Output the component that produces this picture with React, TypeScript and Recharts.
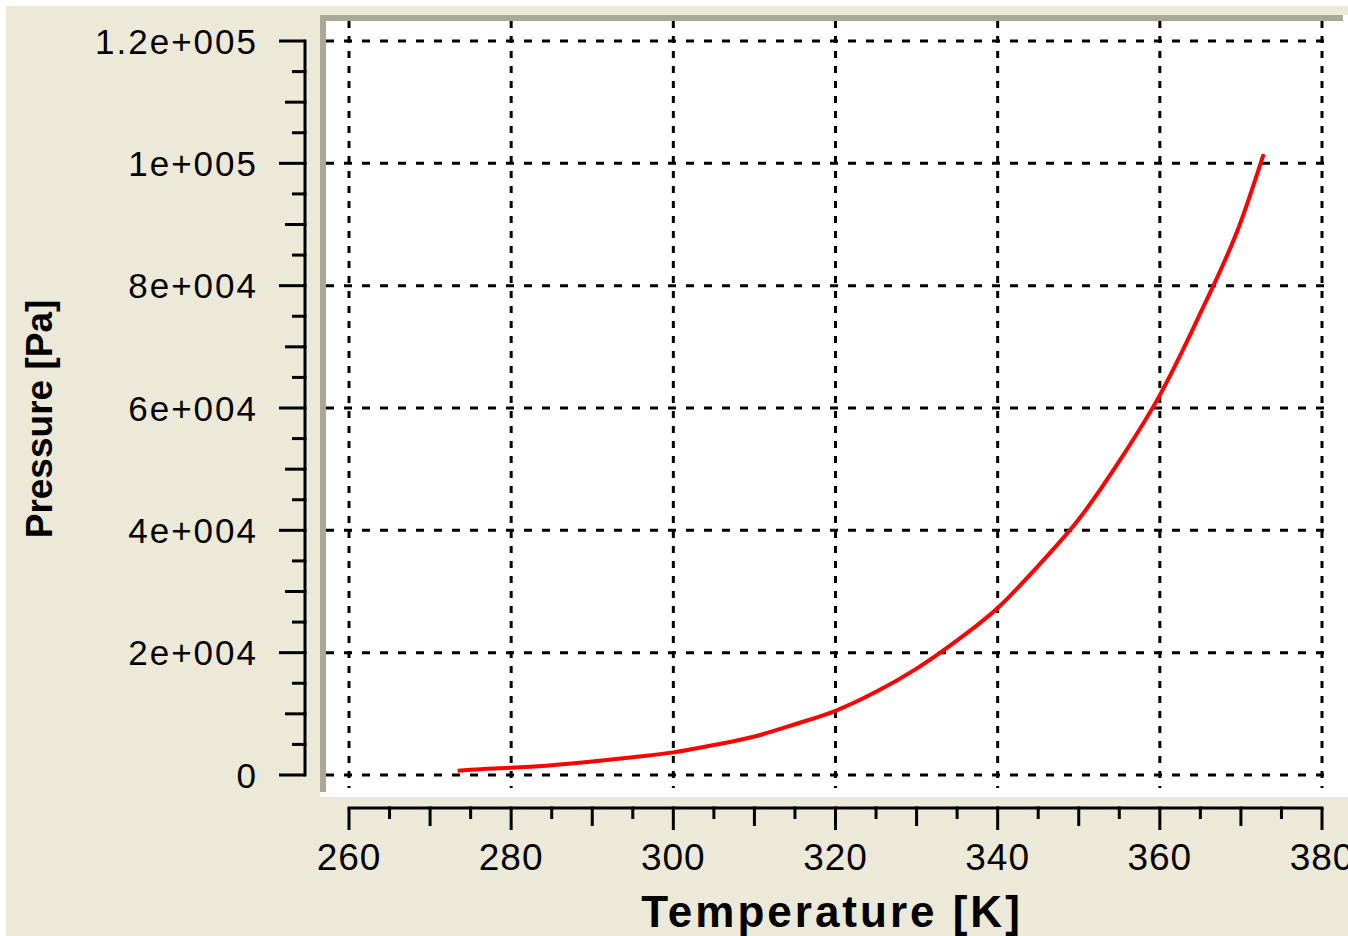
import React from 'react';
import { LineChart, Line, XAxis, YAxis, CartesianGrid } from 'recharts';

// ---- data ----
const temperatureK = [273.4, 275, 280, 285, 290, 295, 300, 305, 310, 315, 320, 325, 330, 335, 340, 345, 350, 355, 360, 365, 370, 372.8];
const pressurePa = [700, 850, 1200, 1600, 2200, 2900, 3700, 4900, 6300, 8300, 10500, 13600, 17400, 22000, 27300, 34200, 41800, 51300, 62100, 75500, 90500, 101500];

const xMajorTicks = [260, 280, 300, 320, 340, 360, 380];
const xTickLabels = ['260', '280', '300', '320', '340', '360', '380'];
const xAllTicks = [260, 265, 270, 275, 280, 285, 290, 295, 300, 305, 310, 315, 320, 325, 330, 335, 340, 345, 350, 355, 360, 365, 370, 375, 380];

const yMajorTicks = [0, 20000, 40000, 60000, 80000, 100000, 120000];
const yTickLabels = ['0', '2e+004', '4e+004', '6e+004', '8e+004', '1e+005', '1.2e+005'];
const yAllTicks = [0, 5000, 10000, 15000, 20000, 25000, 30000, 35000, 40000, 45000, 50000, 55000, 60000, 65000, 70000, 75000, 80000, 85000, 90000, 95000, 100000, 105000, 110000, 115000, 120000];

const xTitle = 'Temperature [K]';
const yTitle = 'Pressure [Pa]';

const data = temperatureK.map((t, i) => ({ t, p: pressurePa[i] }));

const FONT = '"Liberation Sans", Arial, sans-serif';
const BEIGE = '#ECE9D8';
const GREY = '#ACA899';

const xCoords: number[] = [];
const yCoords: number[] = [];

const XTick = (props: any) => {
  const { x, y, payload, index } = props;
  const v = payload.value;
  const ay = y + 20;
  xCoords[index] = x;
  const mi = xMajorTicks.indexOf(v);
  const len = mi >= 0 ? 22 : v % 10 === 0 ? 18 : 11;
  return (
    <g>
      {index > 0 && (
        <line x1={xCoords[index - 1]} x2={x} y1={ay} y2={ay} stroke="#000" strokeWidth={3} strokeLinecap="square" />
      )}
      <line x1={x} x2={x} y1={ay} y2={ay + len} stroke="#000" strokeWidth={3} />
      {mi >= 0 && (
        <text x={x} y={ay + 62} textAnchor="middle" fontFamily={FONT} fontSize={37} fill="#000" letterSpacing={1}>
          {xTickLabels[mi]}
        </text>
      )}
    </g>
  );
};

const YTick = (props: any) => {
  const { x, y, payload, index } = props;
  const v = payload.value;
  const ax = x - 21;
  yCoords[index] = y;
  const mi = yMajorTicks.indexOf(v);
  const len = mi >= 0 ? 26 : v % 10000 === 0 ? 20 : 13;
  return (
    <g>
      {index > 0 && (
        <line x1={ax} x2={ax} y1={yCoords[index - 1]} y2={y} stroke="#000" strokeWidth={3} strokeLinecap="square" />
      )}
      <line x1={ax - len} x2={ax} y1={y} y2={y} stroke="#000" strokeWidth={3} />
      {mi >= 0 && (
        <text x={ax - 47} y={y + 12.5} textAnchor="end" fontFamily={FONT} fontSize={35} fill="#000" letterSpacing={2}>
          {yTickLabels[mi]}
        </text>
      )}
    </g>
  );
};

export default function App() {
  return (
    <div style={{ position: 'relative', width: 1348, height: 936, background: '#fff', overflow: 'hidden' }}>
      <style>{'body{margin:0}'}</style>
      <div style={{ position: 'absolute', left: 6, top: 6, right: 0, bottom: 0, background: BEIGE }} />
      <div style={{ position: 'absolute', left: 320, top: 15, width: 1028, height: 782, background: '#fff' }} />
      <div style={{ position: 'absolute', left: 320, top: 15, width: 6, height: 777, background: GREY }} />
      <div style={{ position: 'absolute', left: 320, top: 15, width: 1023, height: 6, background: GREY }} />
      <div style={{ position: 'absolute', left: 0, top: 0 }}>
        <LineChart width={1348} height={936} data={data} margin={{ top: 21, right: 15, bottom: 0, left: 0 }}>
          <XAxis
            dataKey="t"
            type="number"
            domain={[260, 380]}
            ticks={xMajorTicks}
            padding={{ left: 23, right: 11 }}
            height={0}
            hide
          />
          <YAxis
            dataKey="p"
            type="number"
            domain={[0, 120000]}
            ticks={yMajorTicks}
            padding={{ top: 20, bottom: 13 }}
            width={0}
            hide
          />
          <XAxis
            xAxisId="vis"
            dataKey="t"
            type="number"
            domain={[260, 380]}
            ticks={xAllTicks}
            interval={0}
            padding={{ left: 23, right: 11 }}
            height={148}
            axisLine={false}
            tickLine={false}
            tickSize={0}
            tickMargin={0}
            tick={<XTick />}
          />
          <YAxis
            yAxisId="vis"
            dataKey="p"
            type="number"
            domain={[0, 120000]}
            ticks={yAllTicks}
            interval={0}
            padding={{ top: 20, bottom: 13 }}
            width={326}
            axisLine={false}
            tickLine={false}
            tickSize={0}
            tickMargin={0}
            tick={<YTick />}
          />
          <CartesianGrid horizontal={true} vertical={false} syncWithTicks stroke="#000" strokeWidth={3} strokeDasharray="8 10" />
          <CartesianGrid horizontal={false} vertical={true} syncWithTicks stroke="#000" strokeWidth={3} strokeDasharray="7 8" />
          <Line
            dataKey="p"
            type="monotone"
            stroke="#FF0000"
            strokeWidth={4}
            dot={false}
            isAnimationActive={false}
          />
        </LineChart>
      </div>
      <svg width={1348} height={936} style={{ position: 'absolute', left: 0, top: 0, pointerEvents: 'none' }}>
        <text x={832} y={927} textAnchor="middle" fontFamily={FONT} fontWeight="bold" fontSize={44} letterSpacing={3} fill="#000">
          {xTitle}
        </text>
        <text
          x={52}
          y={419}
          textAnchor="middle"
          fontFamily={FONT}
          fontWeight="bold"
          fontSize={37}
          fill="#000"
          transform="rotate(-90, 52, 419)"
        >
          {yTitle}
        </text>
      </svg>
    </div>
  );
}
